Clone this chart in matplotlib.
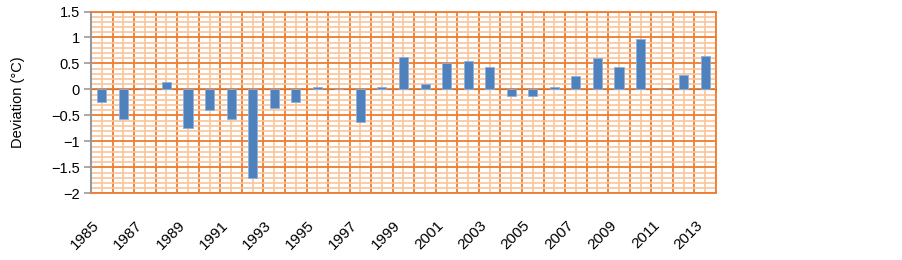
import matplotlib
matplotlib.use("Agg")
import matplotlib.pyplot as plt
import numpy as np
from matplotlib.ticker import MultipleLocator, FixedLocator

years = list(range(1985, 2014))
deviation = [-0.25, -0.57, 0.0, 0.15, -0.75, -0.40, -0.57, -1.70, -0.35, -0.25,
             0.04, 0.0, -0.62, 0.04, 0.63, 0.10, 0.50, 0.55, 0.43, -0.12,
             -0.12, 0.04, 0.25, 0.60, 0.43, 0.97, 0.0, 0.27, 0.65]
tick_labels = [str(y) if (y - 1985) % 2 == 0 else "" for y in years]
ylabel = "Deviation (\u00b0C)"

plt.rcParams['font.family'] = ['Liberation Sans', 'DejaVu Sans']

fig = plt.figure(figsize=(9.03, 2.60), dpi=100)
ax = fig.add_axes([91/903, 1 - 193.3/260, (716 - 91)/903, (193.3 - 11.5)/260])

x = np.arange(len(years))
ax.bar(x, deviation, width=0.42, color='#4F81BD', edgecolor='#8DB0DC', linewidth=0.6, zorder=3)

ax.set_xlim(-0.5, len(years) - 0.5)
ax.set_ylim(-2, 1.5)

dark = '#ED7D31'
light = '#F9C59B'
ax.xaxis.set_major_locator(FixedLocator(x))
ax.xaxis.set_minor_locator(FixedLocator(np.arange(len(years) + 1) - 0.5))
ax.set_xticklabels(tick_labels, rotation=45, ha='right', va='bottom', rotation_mode='anchor', fontsize=11)
ax.tick_params(axis='x', which='both', length=0, pad=25)
ax.yaxis.set_major_locator(MultipleLocator(0.5))
ax.yaxis.set_minor_locator(MultipleLocator(0.1))
ax.grid(which='minor', axis='both', color=light, linewidth=1.2, zorder=0)
ax.grid(which='major', axis='y', color=dark, linewidth=1.3, zorder=1)
ax.grid(which='major', axis='x', color=light, linewidth=1.2, zorder=0)
ax.grid(which='minor', axis='x', color=dark, linewidth=1.3, zorder=1)
ax.set_axisbelow(True)

ax.set_yticks([1.5, 1, 0.5, 0, -0.5, -1, -1.5, -2])
ax.set_yticklabels(['1.5', '1', '0.5', '0', '\u22120.5', '\u22121', '\u22121.5', '\u22122'], fontsize=10.5)
ax.tick_params(axis='y', which='major', length=5, width=1.2, color='#999999', pad=3)
ax.tick_params(axis='y', which='minor', length=0)

for s in ['top', 'right', 'bottom']:
    ax.spines[s].set_color(dark)
    ax.spines[s].set_linewidth(1.3)
ax.spines['left'].set_color('#999999')
ax.spines['left'].set_linewidth(1.5)

sec = ax.secondary_xaxis(2 / 3.5)
sec.set_xticks(np.arange(len(years) + 1) - 0.5)
sec.set_xticklabels([])
sec.tick_params(length=4, direction='inout', width=1.2, color='#999999')
sec.spines['bottom'].set_color('#999999')
sec.spines['bottom'].set_linewidth(1.5)
sec.spines['bottom'].set_zorder(4)

ax.set_ylabel(ylabel, fontsize=10.5)
ax.yaxis.set_label_coords((25 - 91) / 625, 0.5)

fig.savefig('out.png', dpi=100)
